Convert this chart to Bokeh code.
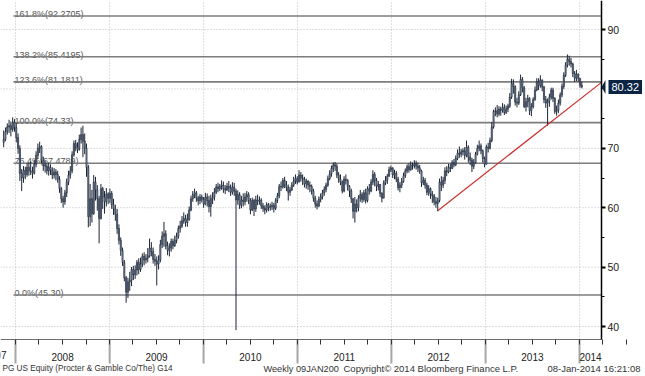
import pandas as pd
from bokeh.plotting import figure
from bokeh.models import Range1d, FixedTicker, Label, ColumnDataSource, PolyAnnotation, LinearAxis
from bokeh.embed import file_html
from bokeh.resources import INLINE

# ---------------- data (weekly bars, PG US Equity) ----------------
first_week = "2007-11-16"
first_open = 71.0

c2007 = [71.5, 72.8, 73.6, 73.8, 73.2, 74.4, 73.5]
h2007 = [73.0, 73.5, 74.2, 74.8, 74.5, 75.2, 74.9]
l2007 = [70.2, 71.2, 72.3, 72.6, 72.0, 72.8, 72.8]

c2008 = [71.8, 70.0, 65.8, 65.0, 66.3, 65.6, 66.8, 66.2, 66.1, 65.8, 67.3, 68.8, 70.0, 70.3, 68.0, 67.2, 67.0, 66.2,
         66.8, 66.3, 65.5, 66.0, 65.6, 64.8, 63.2, 61.5, 61.0, 62.5, 64.3, 65.5, 66.2, 68.9, 70.8, 70.2, 69.8, 71.5,
         72.3, 71.2, 70.0, 66.8, 58.5, 61.5, 59.0, 64.3, 63.0, 61.5, 58.2, 63.2, 61.8, 61.0, 62.3, 61.6]
h2008 = [74.2, 72.5, 70.5, 66.5, 67.0, 66.9, 67.5, 67.6, 67.8, 66.9, 68.0, 69.5, 70.8, 71.1, 70.5, 68.6, 67.9, 67.5,
         67.6, 67.3, 66.8, 66.7, 66.5, 66.2, 65.3, 63.5, 62.0, 63.0, 64.9, 66.2, 67.0, 69.5, 71.3, 71.4, 71.0, 72.3,
         73.5, 73.8, 72.5, 70.8, 67.2, 64.0, 63.0, 65.5, 65.2, 63.8, 62.0, 64.0, 63.5, 62.8, 63.3, 62.6]
l2008 = [71.0, 69.1, 64.5, 62.8, 64.2, 64.8, 65.2, 65.4, 65.5, 64.9, 65.6, 66.8, 68.2, 69.2, 67.5, 66.2, 65.9, 65.6,
         65.4, 65.5, 64.8, 64.9, 64.6, 64.2, 62.5, 60.8, 60.0, 60.5, 61.8, 63.8, 64.9, 65.8, 68.6, 69.5, 69.2, 69.6,
         70.8, 68.5, 69.0, 65.2, 56.7, 56.9, 57.5, 58.8, 61.2, 59.5, 54.0, 58.0, 59.8, 59.0, 60.2, 60.6]

c2009 = [62.4, 60.5, 59.8, 58.9, 56.5, 54.5, 52.8, 50.8, 48.2, 45.8, 47.5, 47.8, 49.6, 48.7, 49.5, 50.8, 49.6, 50.5,
         51.8, 51.2, 51.5, 51.9, 53.2, 52.6, 51.3, 51.0, 50.5, 51.2, 53.8, 55.2, 55.6, 53.6, 52.8, 53.2, 54.3, 53.6,
         54.5, 55.2, 56.5, 56.9, 57.8, 58.2, 57.5, 58.0, 59.6, 61.5, 62.2, 62.5, 61.6, 61.2, 61.8, 61.4]
h2009 = [63.2, 62.8, 61.5, 60.5, 59.8, 57.2, 55.0, 53.3, 51.2, 48.5, 48.2, 49.2, 50.0, 50.2, 50.3, 51.2, 51.5, 51.6,
         52.3, 52.5, 52.2, 53.2, 54.8, 54.2, 53.3, 52.2, 51.8, 52.0, 54.6, 56.0, 57.6, 56.2, 54.3, 54.0, 54.8, 54.8,
         55.3, 55.8, 57.0, 57.8, 58.6, 59.2, 58.8, 59.0, 60.2, 62.0, 62.8, 63.2, 62.8, 62.0, 62.3, 62.2]
l2009 = [60.8, 59.8, 58.8, 57.8, 55.6, 53.8, 51.9, 50.2, 47.6, 44.0, 44.8, 46.0, 46.8, 47.8, 48.0, 48.6, 48.8, 49.2,
         50.0, 50.3, 50.6, 50.8, 51.6, 51.8, 50.6, 50.2, 46.9, 49.6, 50.8, 53.2, 53.4, 53.0, 52.0, 51.8, 52.6, 53.0,
         53.4, 54.0, 54.8, 55.8, 56.6, 57.3, 56.8, 56.8, 57.8, 59.4, 61.0, 61.6, 61.0, 60.4, 60.6, 60.9]

c2010 = [60.6, 61.8, 61.2, 60.2, 61.5, 61.8, 62.6, 63.5, 63.2, 63.6, 63.8, 63.2, 63.0, 63.6, 63.3, 62.6, 63.5, 62.8,
         61.3, 62.2, 60.4, 61.3, 61.0, 61.8, 62.2, 61.2, 59.6, 61.2, 59.8, 61.3, 61.1, 61.3, 60.3, 59.9, 59.6, 60.5,
         60.0, 60.2, 60.4, 59.9, 61.2, 62.0, 63.6, 63.5, 64.6, 63.8, 63.4, 62.6, 63.0, 63.8, 64.5, 64.9, 64.3]
h2010 = [61.8, 62.5, 62.4, 62.0, 62.2, 62.6, 63.3, 64.0, 64.2, 64.0, 64.6, 64.4, 63.8, 64.2, 64.5, 63.9, 64.3, 64.2,
         63.2, 62.9, 62.6, 62.0, 62.4, 62.5, 62.8, 62.6, 61.6, 61.7, 61.5, 62.0, 62.2, 61.9, 61.6, 60.8, 60.4, 60.9,
         60.8, 60.7, 61.0, 60.8, 61.6, 62.5, 64.0, 64.4, 65.0, 65.2, 64.5, 63.9, 63.5, 64.3, 65.2, 65.6, 65.3]
l2010 = [60.0, 60.4, 60.2, 59.2, 58.5, 60.6, 61.2, 62.3, 62.6, 62.8, 63.0, 62.5, 62.3, 62.8, 62.6, 62.0, 62.2, 62.0,
         39.4, 60.5, 59.8, 59.9, 60.2, 60.4, 61.0, 60.6, 58.9, 59.4, 58.6, 59.3, 60.4, 60.5, 59.8, 59.3, 58.9, 59.2,
         59.4, 59.5, 59.6, 59.2, 59.6, 60.8, 61.6, 62.8, 63.2, 63.3, 62.8, 61.2, 62.0, 62.8, 63.5, 64.0, 63.9]

c2011 = [65.5, 65.0, 64.8, 64.0, 64.5, 63.8, 63.6, 62.8, 61.6, 60.6, 60.3, 61.4, 61.8, 62.5, 63.1, 63.8, 64.9, 65.7,
         66.6, 67.2, 67.0, 65.5, 64.8, 64.3, 62.8, 64.8, 64.6, 63.6, 62.8, 61.5, 59.4, 60.6, 60.0, 61.6, 62.2, 61.4,
         62.5, 61.2, 63.2, 62.8, 64.3, 65.6, 64.6, 63.6, 63.9, 62.4, 61.6, 64.2, 64.6, 65.3, 66.4, 66.7]
h2011 = [66.3, 66.0, 65.6, 65.2, 64.9, 64.6, 64.4, 63.9, 63.2, 62.0, 61.2, 61.9, 62.4, 63.0, 63.6, 64.2, 65.4, 66.3,
         67.1, 67.6, 67.7, 67.4, 66.0, 65.6, 64.6, 65.3, 65.6, 64.8, 63.8, 63.2, 61.6, 61.8, 61.4, 62.1, 63.0, 62.6,
         63.0, 63.2, 63.6, 64.0, 64.8, 66.3, 66.0, 65.0, 64.5, 64.0, 62.6, 64.6, 65.3, 65.7, 66.9, 67.1]
l2011 = [64.3, 64.4, 63.8, 63.4, 63.2, 63.0, 62.6, 62.2, 61.0, 60.0, 59.7, 60.1, 60.9, 61.4, 62.0, 62.6, 63.5, 64.6,
         65.2, 66.0, 66.2, 65.0, 64.2, 63.8, 62.4, 62.6, 63.9, 62.9, 61.8, 60.8, 58.2, 57.5, 59.2, 59.4, 61.0, 60.8,
         61.0, 60.7, 60.9, 62.2, 62.6, 63.8, 63.6, 62.8, 62.9, 61.8, 60.9, 61.7, 63.8, 64.0, 65.2, 66.0]

c2012 = [65.5, 65.8, 64.8, 63.4, 63.8, 64.4, 65.4, 66.2, 66.9, 66.4, 67.2, 67.0, 67.4, 67.0, 66.7, 66.2, 64.2, 64.6,
         63.8, 62.6, 63.2, 62.3, 62.0, 61.0, 60.7, 61.2, 64.3, 63.8, 64.6, 66.2, 66.0, 66.8, 66.6, 67.6, 67.2, 68.3,
         69.2, 69.0, 69.4, 69.6, 68.8, 70.2, 68.5, 68.0, 67.0, 67.6, 69.0, 70.0, 70.4, 69.6, 68.3, 67.3]
h2012 = [66.8, 66.4, 66.2, 65.2, 64.3, 65.0, 65.9, 66.6, 67.3, 67.5, 67.8, 67.6, 68.0, 67.9, 67.6, 67.2, 66.4, 65.2,
         65.0, 64.2, 63.8, 63.4, 62.8, 62.3, 61.8, 61.7, 64.9, 65.3, 65.2, 66.8, 67.0, 67.4, 67.4, 68.0, 68.2, 68.8,
         69.8, 70.3, 69.9, 70.0, 70.2, 71.3, 70.5, 69.3, 68.4, 68.2, 69.4, 70.6, 71.3, 70.8, 69.8, 68.6]
l2012 = [65.0, 64.8, 64.3, 62.9, 62.6, 63.3, 64.2, 65.0, 65.8, 65.9, 66.2, 66.4, 66.6, 66.4, 66.0, 65.7, 63.5, 63.8,
         63.2, 62.1, 62.0, 61.5, 60.8, 60.4, 60.0, 59.4, 60.9, 62.8, 63.3, 64.0, 65.3, 65.8, 66.0, 66.5, 66.8, 67.0,
         68.0, 68.4, 68.5, 68.8, 68.1, 68.5, 67.6, 67.2, 66.0, 66.5, 67.4, 68.8, 69.5, 69.0, 67.6, 66.8]

c2013 = [70.2, 70.0, 71.3, 73.6, 76.2, 76.3, 75.8, 76.6, 76.4, 76.9, 76.0, 76.6, 77.1, 78.6, 80.9, 80.4, 77.8, 77.6,
         79.0, 81.6, 80.2, 77.0, 77.8, 78.4, 76.3, 77.0, 78.2, 79.8, 81.2, 80.6, 81.5, 80.3, 78.2, 77.6, 77.9, 78.6,
         79.8, 78.4, 76.2, 76.4, 77.6, 79.0, 80.4, 82.3, 84.0, 85.0, 84.6, 84.2, 82.6, 81.8, 82.5, 81.8]
h2013 = [70.6, 70.9, 71.8, 74.4, 76.5, 76.9, 77.3, 77.1, 77.0, 77.6, 77.4, 77.2, 77.5, 79.3, 81.7, 81.6, 80.6, 78.5,
         79.6, 82.4, 82.0, 80.5, 78.5, 79.0, 78.6, 77.6, 78.6, 80.4, 81.8, 81.8, 82.3, 81.6, 80.5, 78.8, 78.4, 79.2,
         80.2, 80.2, 78.6, 77.2, 78.2, 79.4, 80.9, 82.8, 84.5, 85.8, 85.6, 85.2, 84.4, 83.0, 83.2, 82.6]
l2013 = [67.3, 69.3, 69.8, 71.0, 73.3, 75.4, 75.2, 75.4, 75.5, 76.0, 75.6, 75.8, 76.1, 76.8, 78.3, 79.2, 77.2, 76.9,
         77.3, 78.8, 79.4, 76.8, 76.2, 76.9, 75.6, 75.4, 76.7, 78.0, 79.6, 79.8, 80.2, 79.6, 77.6, 76.8, 73.8, 77.0,
         78.2, 77.8, 75.8, 75.5, 75.9, 77.2, 78.6, 80.0, 82.0, 83.6, 83.9, 83.6, 82.0, 81.2, 81.3, 81.2]

c2014 = [80.6, 80.32]
h2014 = [81.7, 81.2]
l2014 = [80.2, 80.1]

last_price = 80.32

fib_labels = ["161.8%(92.2705)", "138.2%(85.4195)", "123.6%(81.1811)", "100.0%(74.33)",
              "76.4%(67.4789)", "0.0%(45.30)"]
fib_levels = [92.2705, 85.4195, 81.1811, 74.33, 67.4789, 45.30]
fib_start = "2007-12-24"

trend_dates = ["2012-06-29", "2014-03-27 12:00"]
trend_values = [59.5, 81.1]

years = [2008, 2009, 2010, 2011, 2012, 2013, 2014]
year_labels = ["2008", "2009", "2010", "2011", "2012", "2013", "2014"]
first_year_label = "2007"
y_ticks = [40, 50, 60, 70, 80, 90]
y_minor = [45, 55, 65, 75, 85]

footer_left = "PG US Equity (Procter & Gamble Co/The) G14"
footer_mid = "Weekly 09JAN200"
footer_copy = "Copyright\u00a9 2014 Bloomberg Finance L.P."
footer_time = "08-Jan-2014 16:21:08"

# ---------------- assemble ----------------
closes = c2007 + c2008 + c2009 + c2010 + c2011 + c2012 + c2013 + c2014
highs = h2007 + h2008 + h2009 + h2010 + h2011 + h2012 + h2013 + h2014
lows = l2007 + l2008 + l2009 + l2010 + l2011 + l2012 + l2013 + l2014
opens = [first_open] + closes[:-1]
dates = pd.date_range(first_week, periods=len(closes), freq="W-FRI")

hi = [max(h, o, c) for h, o, c in zip(highs, opens, closes)]
lo = [min(l, o, c) for l, o, c in zip(lows, opens, closes)]
top = [max(o, c) for o, c in zip(opens, closes)]
bot = [min(o, c) for o, c in zip(opens, closes)]
src = ColumnDataSource(dict(x=dates, h=hi, l=lo, top=top, bot=bot))


def ms(s):
    return pd.Timestamp(s).value // 10**6


# ---------------- layout constants (pixels -> data) ----------------
W, H = 645, 376
xpx = (ms("2014-01-01") - ms("2008-01-01")) / 564.0      # ms per pixel
ypx = 10.0 / 59.4                                         # price per pixel
x_start = ms("2008-01-01") - 15 * xpx
x_axis_at = ms("2014-03-27 12:00")                        # right axis position
x_right = x_start + W * xpx
y_axis_at = 40 - 13 * ypx                                 # bottom axis position
y_top = 90 + 29 * ypx
y_bottom = y_axis_at - (H - 339) * ypx

SANS = "Liberation Sans"

p = figure(width=W, height=H, x_range=Range1d(x_start, x_right), y_range=Range1d(y_bottom, y_top),
           x_axis_location=None, y_axis_location=None, output_backend="svg",
           toolbar_location=None, min_border=0)
p.grid.grid_line_color = None
p.outline_line_color = None
p.background_fill_color = "white"
p.border_fill_color = "white"

year_ms = [ms(f"{y}-01-01") for y in years]

# dotted grid
p.segment(x0=[x_start] * len(y_ticks), x1=[x_axis_at] * len(y_ticks), y0=y_ticks, y1=y_ticks,
          line_color="#bcbcbc", line_dash="1 2", line_width=1)
p.segment(x0=year_ms, x1=year_ms, y0=[y_axis_at] * len(year_ms), y1=[y_top] * len(year_ms),
          line_color="#bcbcbc", line_dash="1 2", line_width=1)

# fib levels
p.segment(x0=[ms(fib_start)] * len(fib_levels), x1=[x_axis_at] * len(fib_levels),
          y0=fib_levels, y1=fib_levels, line_color="#7d7d7d", line_width=1.6)
for lvl, txt in zip(fib_levels, fib_labels):
    p.add_layout(Label(x=ms(fib_start), y=lvl, text=txt, x_offset=1, y_offset=2,
                       text_baseline="alphabetic", text_font=SANS, level="underlay",
                       text_font_size="9px", text_color="#555555"))

# weekly bars
DARK = "#1a2434"
p.segment(x0="x", y0="l", x1="x", y1="h", source=src, line_color=DARK, line_width=1)
p.vbar(x="x", top="top", bottom="bot", width=4.5 * 86400000, source=src,
       fill_color="#8797ae", line_color=DARK, line_width=0.6)

# trend line
p.line([ms(d) for d in trend_dates], trend_values, line_color="#c8322e", line_width=1.2)

# year separators below the axis
p.segment(x0=year_ms, x1=year_ms, y0=[y_axis_at] * len(year_ms),
          y1=[y_axis_at - 24 * ypx] * len(year_ms), line_color="#a6a6a6", line_width=2)

# bottom axis: year labels centred in the visible part of each year, quarterly minor ticks
label_ms = [ms(f"{y}-07-02") for y in years[:-1]] + [int(ms("2014-01-01") + 11 * xpx)]
quarter_ms = [ms(f"{y}-{m:02d}-01") for y in range(2007, 2015) for m in (1, 4, 7, 10)]
xa = LinearAxis(fixed_location=y_axis_at,
                ticker=FixedTicker(ticks=label_ms, minor_ticks=quarter_ms),
                major_label_overrides=dict(zip(label_ms, year_labels)),
                bounds=(x_start, x_axis_at))
xa.major_tick_line_color = None
xa.major_tick_in = 0
xa.major_tick_out = 0
xa.minor_tick_in = 0
xa.minor_tick_out = 5
xa.minor_tick_line_color = "#333333"
xa.axis_line_color = "#6e6e6e"
xa.major_label_standoff = 8
xa.major_label_text_font = SANS
xa.major_label_text_font_size = "10px"
xa.major_label_text_color = "#222222"
p.add_layout(xa, "below")

# partly visible label of the first (2007) year at the left edge
p.add_layout(Label(x=ms("2008-01-01") - 20 * xpx, y=y_axis_at - 15.5 * ypx, text=first_year_label,
                   text_align="center", text_baseline="middle", text_font=SANS,
                   text_font_size="10px", text_color="#222222"))

# right axis
ya = LinearAxis(fixed_location=x_axis_at,
                ticker=FixedTicker(ticks=[t for t in y_ticks if t != 80], minor_ticks=y_minor + [80]),
                bounds=(y_axis_at, y_top))
ya.axis_line_color = "black"
ya.axis_line_width = 1.5
ya.major_tick_in = 0
ya.major_tick_out = 4
ya.major_tick_line_width = 2
ya.minor_tick_in = 0
ya.minor_tick_out = 3
ya.major_label_standoff = 2
ya.major_label_text_font = SANS
ya.major_label_text_font_size = "10.5px"
ya.major_label_text_color = "#222222"
p.add_layout(ya, "right")

# footer
y_foot = y_axis_at - 29 * ypx
foot = [(footer_left, x_start + 2 * xpx, "left", "8.2px"),
        (footer_mid, x_start + 263 * xpx, "left", "9.2px"),
        (footer_copy, x_start + 343 * xpx, "left", "9.5px"),
        (footer_time, x_start + 640 * xpx, "right", "9.5px")]
for txt, xx, al, fs in foot:
    p.add_layout(Label(x=xx, y=y_foot, text=txt, text_align=al, text_baseline="middle",
                       text_font=SANS, text_font_size=fs, text_color="#333333"))

# last price marker
NAVY = "#0c2444"
p.add_layout(PolyAnnotation(xs=[x_axis_at, x_axis_at + 4 * xpx, x_axis_at + 4 * xpx],
                            ys=[last_price, last_price + 7 * ypx, last_price - 7 * ypx],
                            fill_color=NAVY, fill_alpha=1, line_color=None))
p.add_layout(Label(x=x_axis_at, y=last_price, x_offset=7, text=f"{last_price:.2f}",
                   text_align="left", text_baseline="middle", text_color="white",
                   text_font=SANS, text_font_size="11px",
                   background_fill_color=NAVY, padding=3))

open("out.html", "w").write(file_html(p, INLINE))
